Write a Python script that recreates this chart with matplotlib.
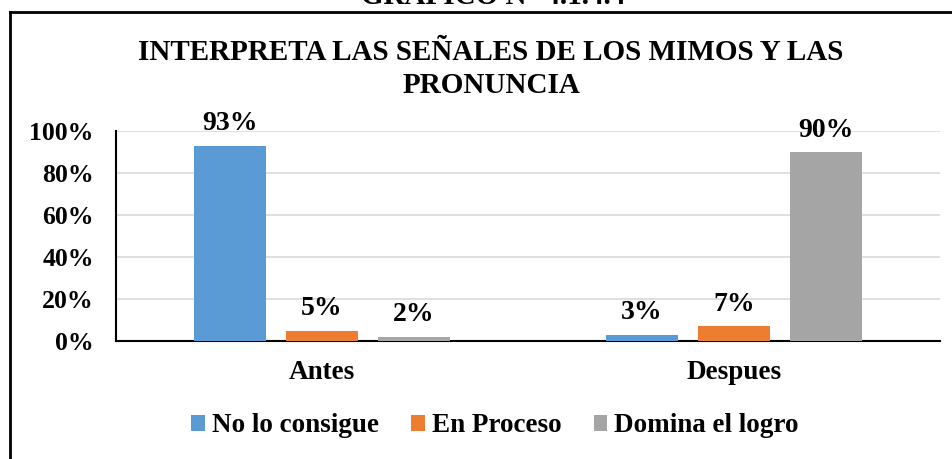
from matplotlib import pyplot as plt
from matplotlib.lines import Line2D
import numpy as np

plt.rcParams["font.family"] = ["Liberation Serif", "DejaVu Serif"]
plt.rcParams["font.weight"] = "bold"

categories = ["Antes", "Despues"]
series = ["No lo consigue", "En Proceso", "Domina el logro"]
no_lo_consigue = [0.93, 0.03]
en_proceso = [0.05, 0.07]
domina = [0.02, 0.90]
labels_no = ["93%", "3%"]
labels_en = ["5%", "7%"]
labels_dom = ["2%", "90%"]
yticks = [0, 0.2, 0.4, 0.6, 0.8, 1.0]
ytick_labels = ["0%", "20%", "40%", "60%", "80%", "100%"]

colors = ["#5B9BD5", "#ED7D31", "#A5A5A5"]

W, H = 952, 459
fig = plt.figure(figsize=(W / 100, H / 100), dpi=100)
ax = fig.add_axes([116 / W, (H - 341) / H, (940 - 116) / W, 210 / H])

x = np.arange(len(categories))
width = 0.175
offset = 0.223
values = [no_lo_consigue, en_proceso, domina]
texts = [labels_no, labels_en, labels_dom]
for i, (vals, labs) in enumerate(zip(values, texts)):
    pos = x + (i - 1) * offset
    ax.bar(pos, vals, width, color=colors[i], label=series[i], zorder=3)
    for p, v, t in zip(pos, vals, labs):
        ax.text(p, v + 0.045, t, ha="center", va="bottom", fontsize=20, fontweight="bold")

ax.set_xlim(-0.5, 1.5)
ax.set_ylim(0, 1.0)
ax.set_yticks(yticks)
ax.set_yticklabels(ytick_labels, fontsize=18.5, fontweight="bold")
ax.set_xticks(x)
ax.set_xticklabels(categories, fontsize=19.5, fontweight="bold")
ax.tick_params(axis="both", length=0)
ax.tick_params(axis="y", pad=16)
ax.tick_params(axis="x", pad=14)
ax.yaxis.grid(True, color="#d9d9d9", linewidth=1.2, zorder=0)
ax.spines["top"].set_visible(False)
ax.spines["right"].set_visible(False)
ax.spines["left"].set_linewidth(1.5)
ax.spines["bottom"].set_linewidth(1.5)

fig.text(491 / W, 1 - 69 / H, "INTERPRETA LAS SEÑALES DE LOS MIMOS Y LAS\nPRONUNCIA",
         ha="center", va="center", fontsize=21, fontweight="bold", linespacing=1.3)
fig.text(493 / W, 1 - 4 / H, "GRAFICO N° 4.1.4.4", ha="center", va="baseline",
         fontsize=21, fontweight="bold")

ax.legend(loc="center", bbox_to_anchor=(495 / W, 1 - 426 / H), bbox_transform=fig.transFigure,
          ncol=3, frameon=False, prop={"size": 19.5, "weight": "bold"},
          handlelength=0.5, handleheight=0.5, handletextpad=0.25, columnspacing=1.2)

fig.add_artist(Line2D([10 / W, 10 / W], [0, 1 - 12 / H], color="black", linewidth=2))
fig.add_artist(Line2D([10 / W, 1], [1 - 12 / H, 1 - 12 / H], color="black", linewidth=2))

fig.savefig("out.png", dpi=100)
